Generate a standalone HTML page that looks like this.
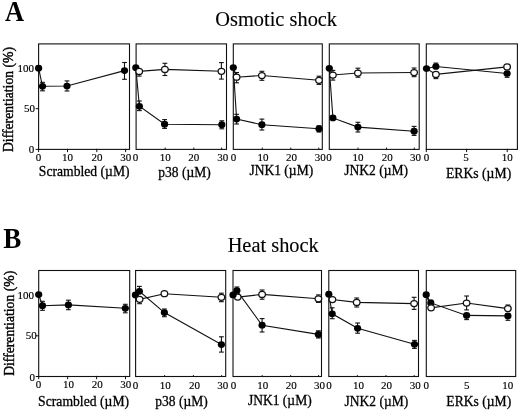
<!DOCTYPE html>
<html><head><meta charset="utf-8"><title>Figure</title>
<style>
html,body{margin:0;padding:0;background:#fff;}
svg{display:block;}
text{font-family:"Liberation Serif","Times New Roman",serif;fill:#000;}
.t{font-size:11px;stroke:#000;stroke-width:.15px;}
.xl{font-size:14.4px;stroke:#000;stroke-width:.28px;}
.yl{font-size:13.7px;stroke:#000;stroke-width:.4px;}
.ti{font-size:20.6px;stroke:#000;stroke-width:.12px;}
.pl{font-size:29.2px;font-weight:bold;}
</style></head>
<body>
<svg width="520" height="412" viewBox="0 0 520 412">
<rect x="0" y="0" width="520" height="412" fill="#fff"/>
<g id="rowA">
<rect x="38.6" y="43.9" width="90.90" height="105.50" fill="none" stroke="#111" stroke-width="1.1"/>
<line x1="38.60" y1="148.80" x2="38.60" y2="152.10" stroke="#111" stroke-width="1"/>
<text class="t" x="38.6" y="160.9" text-anchor="middle">0</text>
<line x1="67.50" y1="148.80" x2="67.50" y2="152.10" stroke="#111" stroke-width="1"/>
<text class="t" x="67.6" y="160.9" text-anchor="middle">10</text>
<line x1="96.80" y1="148.80" x2="96.80" y2="152.10" stroke="#111" stroke-width="1"/>
<text class="t" x="97.0" y="160.9" text-anchor="middle">20</text>
<line x1="125.60" y1="148.80" x2="125.60" y2="152.10" stroke="#111" stroke-width="1"/>
<text class="t" x="125.8" y="160.9" text-anchor="middle">30</text>
<polyline points="38.6,68.2 42.5,86.3 67.0,86.0 124.5,70.6" fill="none" stroke="#111" stroke-width="1.1"/>
<line x1="42.50" y1="86.30" x2="42.50" y2="82.30" stroke="#111" stroke-width="1.1"/>
<line x1="40.10" y1="82.30" x2="44.90" y2="82.30" stroke="#111" stroke-width="1.1"/>
<line x1="42.50" y1="86.30" x2="42.50" y2="90.80" stroke="#111" stroke-width="1.1"/>
<line x1="40.10" y1="90.80" x2="44.90" y2="90.80" stroke="#111" stroke-width="1.1"/>
<line x1="67.00" y1="86.00" x2="67.00" y2="80.90" stroke="#111" stroke-width="1.1"/>
<line x1="64.60" y1="80.90" x2="69.40" y2="80.90" stroke="#111" stroke-width="1.1"/>
<line x1="67.00" y1="86.00" x2="67.00" y2="91.00" stroke="#111" stroke-width="1.1"/>
<line x1="64.60" y1="91.00" x2="69.40" y2="91.00" stroke="#111" stroke-width="1.1"/>
<line x1="124.50" y1="70.60" x2="124.50" y2="62.50" stroke="#111" stroke-width="1.1"/>
<line x1="122.10" y1="62.50" x2="126.90" y2="62.50" stroke="#111" stroke-width="1.1"/>
<line x1="124.50" y1="70.60" x2="124.50" y2="79.30" stroke="#111" stroke-width="1.1"/>
<line x1="122.10" y1="79.30" x2="126.90" y2="79.30" stroke="#111" stroke-width="1.1"/>
<ellipse cx="38.6" cy="68.2" rx="3.6" ry="3.35" fill="#000"/>
<ellipse cx="42.5" cy="86.3" rx="3.6" ry="3.35" fill="#000"/>
<ellipse cx="67.0" cy="86.0" rx="3.6" ry="3.35" fill="#000"/>
<ellipse cx="124.5" cy="70.6" rx="3.6" ry="3.35" fill="#000"/>
<rect x="136.1" y="43.9" width="90.40" height="105.50" fill="none" stroke="#111" stroke-width="1.1"/>
<text class="t" x="135.6" y="161.3" text-anchor="middle">0</text>
<line x1="165.20" y1="147.60" x2="165.20" y2="149.40" stroke="#111" stroke-width="1"/>
<text class="t" x="165.2" y="161.3" text-anchor="middle">10</text>
<line x1="193.80" y1="147.60" x2="193.80" y2="149.40" stroke="#111" stroke-width="1"/>
<text class="t" x="193.8" y="161.3" text-anchor="middle">20</text>
<line x1="221.60" y1="147.60" x2="221.60" y2="149.40" stroke="#111" stroke-width="1"/>
<text class="t" x="222.7" y="161.3" text-anchor="middle">30</text>
<polyline points="135.8,67.7 139.2,71.4 164.9,69.4 221.4,71.3" fill="none" stroke="#111" stroke-width="1.1"/>
<polyline points="135.8,67.7 139.4,106.3 164.6,124.2 221.8,124.7" fill="none" stroke="#111" stroke-width="1.1"/>
<line x1="139.20" y1="71.40" x2="139.20" y2="76.10" stroke="#111" stroke-width="1.1"/>
<line x1="136.80" y1="76.10" x2="141.60" y2="76.10" stroke="#111" stroke-width="1.1"/>
<line x1="164.90" y1="69.40" x2="164.90" y2="63.30" stroke="#111" stroke-width="1.1"/>
<line x1="162.50" y1="63.30" x2="167.30" y2="63.30" stroke="#111" stroke-width="1.1"/>
<line x1="164.90" y1="69.40" x2="164.90" y2="75.50" stroke="#111" stroke-width="1.1"/>
<line x1="162.50" y1="75.50" x2="167.30" y2="75.50" stroke="#111" stroke-width="1.1"/>
<line x1="221.40" y1="71.30" x2="221.40" y2="62.60" stroke="#111" stroke-width="1.1"/>
<line x1="219.00" y1="62.60" x2="223.80" y2="62.60" stroke="#111" stroke-width="1.1"/>
<line x1="221.40" y1="71.30" x2="221.40" y2="79.10" stroke="#111" stroke-width="1.1"/>
<line x1="219.00" y1="79.10" x2="223.80" y2="79.10" stroke="#111" stroke-width="1.1"/>
<line x1="139.40" y1="106.30" x2="139.40" y2="101.00" stroke="#111" stroke-width="1.1"/>
<line x1="137.00" y1="101.00" x2="141.80" y2="101.00" stroke="#111" stroke-width="1.1"/>
<line x1="139.40" y1="106.30" x2="139.40" y2="110.60" stroke="#111" stroke-width="1.1"/>
<line x1="137.00" y1="110.60" x2="141.80" y2="110.60" stroke="#111" stroke-width="1.1"/>
<line x1="164.60" y1="124.20" x2="164.60" y2="119.60" stroke="#111" stroke-width="1.1"/>
<line x1="162.20" y1="119.60" x2="167.00" y2="119.60" stroke="#111" stroke-width="1.1"/>
<line x1="164.60" y1="124.20" x2="164.60" y2="128.40" stroke="#111" stroke-width="1.1"/>
<line x1="162.20" y1="128.40" x2="167.00" y2="128.40" stroke="#111" stroke-width="1.1"/>
<line x1="221.80" y1="124.70" x2="221.80" y2="120.80" stroke="#111" stroke-width="1.1"/>
<line x1="219.40" y1="120.80" x2="224.20" y2="120.80" stroke="#111" stroke-width="1.1"/>
<line x1="221.80" y1="124.70" x2="221.80" y2="128.80" stroke="#111" stroke-width="1.1"/>
<line x1="219.40" y1="128.80" x2="224.20" y2="128.80" stroke="#111" stroke-width="1.1"/>
<ellipse cx="135.8" cy="67.7" rx="3.6" ry="3.35" fill="#000"/>
<ellipse cx="139.4" cy="106.3" rx="3.6" ry="3.35" fill="#000"/>
<ellipse cx="164.6" cy="124.2" rx="3.6" ry="3.35" fill="#000"/>
<ellipse cx="221.8" cy="124.7" rx="3.6" ry="3.35" fill="#000"/>
<ellipse cx="139.2" cy="71.4" rx="3.3" ry="3.0" fill="#fff" stroke="#111" stroke-width="1.25"/>
<ellipse cx="164.9" cy="69.4" rx="3.3" ry="3.0" fill="#fff" stroke="#111" stroke-width="1.25"/>
<ellipse cx="221.4" cy="71.3" rx="3.3" ry="3.0" fill="#fff" stroke="#111" stroke-width="1.25"/>
<rect x="233.3" y="43.9" width="89.00" height="105.50" fill="none" stroke="#111" stroke-width="1.1"/>
<text class="t" x="233.5" y="161.3" text-anchor="middle">0</text>
<line x1="262.30" y1="147.60" x2="262.30" y2="149.40" stroke="#111" stroke-width="1"/>
<text class="t" x="263.0" y="161.3" text-anchor="middle">10</text>
<line x1="290.80" y1="147.60" x2="290.80" y2="149.40" stroke="#111" stroke-width="1"/>
<text class="t" x="291.6" y="161.3" text-anchor="middle">20</text>
<line x1="318.80" y1="147.60" x2="318.80" y2="149.40" stroke="#111" stroke-width="1"/>
<text class="t" x="320.2" y="161.3" text-anchor="middle">30</text>
<polyline points="233.3,67.5 236.6,77.2 261.9,75.5 319.0,80.3" fill="none" stroke="#111" stroke-width="1.1"/>
<polyline points="233.3,67.5 236.6,119.1 261.9,124.7 319.0,128.8" fill="none" stroke="#111" stroke-width="1.1"/>
<line x1="236.60" y1="77.20" x2="236.60" y2="72.50" stroke="#111" stroke-width="1.1"/>
<line x1="234.20" y1="72.50" x2="239.00" y2="72.50" stroke="#111" stroke-width="1.1"/>
<line x1="236.60" y1="77.20" x2="236.60" y2="82.80" stroke="#111" stroke-width="1.1"/>
<line x1="234.20" y1="82.80" x2="239.00" y2="82.80" stroke="#111" stroke-width="1.1"/>
<line x1="261.90" y1="75.50" x2="261.90" y2="71.30" stroke="#111" stroke-width="1.1"/>
<line x1="259.50" y1="71.30" x2="264.30" y2="71.30" stroke="#111" stroke-width="1.1"/>
<line x1="261.90" y1="75.50" x2="261.90" y2="80.30" stroke="#111" stroke-width="1.1"/>
<line x1="259.50" y1="80.30" x2="264.30" y2="80.30" stroke="#111" stroke-width="1.1"/>
<line x1="319.00" y1="80.30" x2="319.00" y2="76.20" stroke="#111" stroke-width="1.1"/>
<line x1="316.60" y1="76.20" x2="321.40" y2="76.20" stroke="#111" stroke-width="1.1"/>
<line x1="319.00" y1="80.30" x2="319.00" y2="84.40" stroke="#111" stroke-width="1.1"/>
<line x1="316.60" y1="84.40" x2="321.40" y2="84.40" stroke="#111" stroke-width="1.1"/>
<line x1="236.60" y1="119.10" x2="236.60" y2="114.30" stroke="#111" stroke-width="1.1"/>
<line x1="234.20" y1="114.30" x2="239.00" y2="114.30" stroke="#111" stroke-width="1.1"/>
<line x1="236.60" y1="119.10" x2="236.60" y2="124.00" stroke="#111" stroke-width="1.1"/>
<line x1="234.20" y1="124.00" x2="239.00" y2="124.00" stroke="#111" stroke-width="1.1"/>
<line x1="261.90" y1="124.70" x2="261.90" y2="119.10" stroke="#111" stroke-width="1.1"/>
<line x1="259.50" y1="119.10" x2="264.30" y2="119.10" stroke="#111" stroke-width="1.1"/>
<line x1="261.90" y1="124.70" x2="261.90" y2="130.00" stroke="#111" stroke-width="1.1"/>
<line x1="259.50" y1="130.00" x2="264.30" y2="130.00" stroke="#111" stroke-width="1.1"/>
<line x1="319.00" y1="128.80" x2="319.00" y2="125.70" stroke="#111" stroke-width="1.1"/>
<line x1="316.60" y1="125.70" x2="321.40" y2="125.70" stroke="#111" stroke-width="1.1"/>
<line x1="319.00" y1="128.80" x2="319.00" y2="132.00" stroke="#111" stroke-width="1.1"/>
<line x1="316.60" y1="132.00" x2="321.40" y2="132.00" stroke="#111" stroke-width="1.1"/>
<ellipse cx="233.3" cy="67.5" rx="3.6" ry="3.35" fill="#000"/>
<ellipse cx="236.6" cy="119.1" rx="3.6" ry="3.35" fill="#000"/>
<ellipse cx="261.9" cy="124.7" rx="3.6" ry="3.35" fill="#000"/>
<ellipse cx="319.0" cy="128.8" rx="3.6" ry="3.35" fill="#000"/>
<ellipse cx="236.6" cy="77.2" rx="3.3" ry="3.0" fill="#fff" stroke="#111" stroke-width="1.25"/>
<ellipse cx="261.9" cy="75.5" rx="3.3" ry="3.0" fill="#fff" stroke="#111" stroke-width="1.25"/>
<ellipse cx="319.0" cy="80.3" rx="3.3" ry="3.0" fill="#fff" stroke="#111" stroke-width="1.25"/>
<rect x="329.3" y="43.9" width="89.90" height="105.50" fill="none" stroke="#111" stroke-width="1.1"/>
<text class="t" x="328.9" y="161.3" text-anchor="middle">0</text>
<line x1="358.00" y1="147.60" x2="358.00" y2="149.40" stroke="#111" stroke-width="1"/>
<text class="t" x="358.1" y="161.3" text-anchor="middle">10</text>
<line x1="386.50" y1="147.60" x2="386.50" y2="149.40" stroke="#111" stroke-width="1"/>
<text class="t" x="387.3" y="161.3" text-anchor="middle">20</text>
<line x1="414.30" y1="147.60" x2="414.30" y2="149.40" stroke="#111" stroke-width="1"/>
<text class="t" x="415.6" y="161.3" text-anchor="middle">30</text>
<polyline points="329.3,68.3 332.9,75.0 357.9,73.0 414.1,72.5" fill="none" stroke="#111" stroke-width="1.1"/>
<polyline points="329.3,68.3 332.9,117.9 357.9,127.1 414.1,131.2" fill="none" stroke="#111" stroke-width="1.1"/>
<line x1="332.90" y1="75.00" x2="332.90" y2="70.40" stroke="#111" stroke-width="1.1"/>
<line x1="330.50" y1="70.40" x2="335.30" y2="70.40" stroke="#111" stroke-width="1.1"/>
<line x1="332.90" y1="75.00" x2="332.90" y2="80.10" stroke="#111" stroke-width="1.1"/>
<line x1="330.50" y1="80.10" x2="335.30" y2="80.10" stroke="#111" stroke-width="1.1"/>
<line x1="357.90" y1="73.00" x2="357.90" y2="68.20" stroke="#111" stroke-width="1.1"/>
<line x1="355.50" y1="68.20" x2="360.30" y2="68.20" stroke="#111" stroke-width="1.1"/>
<line x1="357.90" y1="73.00" x2="357.90" y2="77.20" stroke="#111" stroke-width="1.1"/>
<line x1="355.50" y1="77.20" x2="360.30" y2="77.20" stroke="#111" stroke-width="1.1"/>
<line x1="414.10" y1="72.50" x2="414.10" y2="68.00" stroke="#111" stroke-width="1.1"/>
<line x1="411.70" y1="68.00" x2="416.50" y2="68.00" stroke="#111" stroke-width="1.1"/>
<line x1="414.10" y1="72.50" x2="414.10" y2="76.70" stroke="#111" stroke-width="1.1"/>
<line x1="411.70" y1="76.70" x2="416.50" y2="76.70" stroke="#111" stroke-width="1.1"/>
<line x1="357.90" y1="127.10" x2="357.90" y2="122.30" stroke="#111" stroke-width="1.1"/>
<line x1="355.50" y1="122.30" x2="360.30" y2="122.30" stroke="#111" stroke-width="1.1"/>
<line x1="357.90" y1="127.10" x2="357.90" y2="132.00" stroke="#111" stroke-width="1.1"/>
<line x1="355.50" y1="132.00" x2="360.30" y2="132.00" stroke="#111" stroke-width="1.1"/>
<line x1="414.10" y1="131.20" x2="414.10" y2="126.40" stroke="#111" stroke-width="1.1"/>
<line x1="411.70" y1="126.40" x2="416.50" y2="126.40" stroke="#111" stroke-width="1.1"/>
<line x1="414.10" y1="131.20" x2="414.10" y2="135.40" stroke="#111" stroke-width="1.1"/>
<line x1="411.70" y1="135.40" x2="416.50" y2="135.40" stroke="#111" stroke-width="1.1"/>
<ellipse cx="329.3" cy="68.3" rx="3.6" ry="3.35" fill="#000"/>
<ellipse cx="332.9" cy="117.9" rx="3.6" ry="3.35" fill="#000"/>
<ellipse cx="357.9" cy="127.1" rx="3.6" ry="3.35" fill="#000"/>
<ellipse cx="414.1" cy="131.2" rx="3.6" ry="3.35" fill="#000"/>
<ellipse cx="332.9" cy="75.0" rx="3.3" ry="3.0" fill="#fff" stroke="#111" stroke-width="1.25"/>
<ellipse cx="357.9" cy="73.0" rx="3.3" ry="3.0" fill="#fff" stroke="#111" stroke-width="1.25"/>
<ellipse cx="414.1" cy="72.5" rx="3.3" ry="3.0" fill="#fff" stroke="#111" stroke-width="1.25"/>
<rect x="426.3" y="43.9" width="91.10" height="105.50" fill="none" stroke="#111" stroke-width="1.1"/>
<line x1="426.30" y1="148.80" x2="426.30" y2="152.10" stroke="#111" stroke-width="1"/>
<text class="t" x="426.5" y="161.3" text-anchor="middle">0</text>
<line x1="466.60" y1="148.80" x2="466.60" y2="152.10" stroke="#111" stroke-width="1"/>
<text class="t" x="466.1" y="161.3" text-anchor="middle">5</text>
<line x1="507.20" y1="148.80" x2="507.20" y2="152.10" stroke="#111" stroke-width="1"/>
<text class="t" x="507.3" y="161.3" text-anchor="middle">10</text>
<polyline points="426.5,68.5 435.9,74.4 507.1,66.9" fill="none" stroke="#111" stroke-width="1.1"/>
<polyline points="426.5,68.5 435.9,66.5 507.1,73.5" fill="none" stroke="#111" stroke-width="1.1"/>
<line x1="435.90" y1="74.40" x2="435.90" y2="78.60" stroke="#111" stroke-width="1.1"/>
<line x1="433.50" y1="78.60" x2="438.30" y2="78.60" stroke="#111" stroke-width="1.1"/>
<line x1="435.90" y1="66.50" x2="435.90" y2="63.10" stroke="#111" stroke-width="1.1"/>
<line x1="433.50" y1="63.10" x2="438.30" y2="63.10" stroke="#111" stroke-width="1.1"/>
<line x1="507.10" y1="73.50" x2="507.10" y2="77.30" stroke="#111" stroke-width="1.1"/>
<line x1="504.70" y1="77.30" x2="509.50" y2="77.30" stroke="#111" stroke-width="1.1"/>
<ellipse cx="426.5" cy="68.5" rx="3.6" ry="3.35" fill="#000"/>
<ellipse cx="435.9" cy="66.5" rx="3.6" ry="3.35" fill="#000"/>
<ellipse cx="507.1" cy="73.5" rx="3.6" ry="3.35" fill="#000"/>
<ellipse cx="435.9" cy="74.4" rx="3.3" ry="3.0" fill="#fff" stroke="#111" stroke-width="1.25"/>
<ellipse cx="507.1" cy="66.9" rx="3.3" ry="3.0" fill="#fff" stroke="#111" stroke-width="1.25"/>
<line x1="35.60" y1="68.20" x2="38.60" y2="68.20" stroke="#111" stroke-width="1"/>
<text class="t" x="33.9" y="71.5" text-anchor="end">100</text>
<line x1="35.60" y1="108.70" x2="38.60" y2="108.70" stroke="#111" stroke-width="1"/>
<text class="t" x="35.1" y="112.1" text-anchor="end">50</text>
<line x1="35.60" y1="149.40" x2="38.60" y2="149.40" stroke="#111" stroke-width="1"/>
<text class="t" x="34.3" y="152.7" text-anchor="end">0</text>
<text class="xl" transform="translate(84.2,175.8) scale(0.948,1)" text-anchor="middle">Scrambled (µM)</text>
<text class="xl" transform="translate(184.6,177.2) scale(0.94,1)" text-anchor="middle">p38 (µM)</text>
<text class="xl" transform="translate(281.3,175.4) scale(0.94,1)" text-anchor="middle">JNK1 (µM)</text>
<text class="xl" transform="translate(376.2,175.2) scale(0.94,1)" text-anchor="middle">JNK2 (µM)</text>
<text class="xl" transform="translate(478.6,178) scale(0.95,1)" text-anchor="middle">ERKs (µM)</text>
</g>
<g id="rowB">
<rect x="38.7" y="270.5" width="91.00" height="106.00" fill="none" stroke="#111" stroke-width="1.1"/>
<line x1="38.70" y1="375.90" x2="38.70" y2="379.20" stroke="#111" stroke-width="1"/>
<text class="t" x="38.6" y="388.0" text-anchor="middle">0</text>
<line x1="67.60" y1="375.90" x2="67.60" y2="379.20" stroke="#111" stroke-width="1"/>
<text class="t" x="68.6" y="388.0" text-anchor="middle">10</text>
<line x1="96.60" y1="375.90" x2="96.60" y2="379.20" stroke="#111" stroke-width="1"/>
<text class="t" x="97.2" y="388.0" text-anchor="middle">20</text>
<line x1="125.50" y1="375.90" x2="125.50" y2="379.20" stroke="#111" stroke-width="1"/>
<text class="t" x="125.8" y="388.0" text-anchor="middle">30</text>
<polyline points="38.7,294.6 42.5,305.7 68.4,304.9 125.3,308.3" fill="none" stroke="#111" stroke-width="1.1"/>
<line x1="42.50" y1="305.70" x2="42.50" y2="301.30" stroke="#111" stroke-width="1.1"/>
<line x1="40.10" y1="301.30" x2="44.90" y2="301.30" stroke="#111" stroke-width="1.1"/>
<line x1="42.50" y1="305.70" x2="42.50" y2="310.30" stroke="#111" stroke-width="1.1"/>
<line x1="40.10" y1="310.30" x2="44.90" y2="310.30" stroke="#111" stroke-width="1.1"/>
<line x1="68.40" y1="304.90" x2="68.40" y2="300.20" stroke="#111" stroke-width="1.1"/>
<line x1="66.00" y1="300.20" x2="70.80" y2="300.20" stroke="#111" stroke-width="1.1"/>
<line x1="68.40" y1="304.90" x2="68.40" y2="309.70" stroke="#111" stroke-width="1.1"/>
<line x1="66.00" y1="309.70" x2="70.80" y2="309.70" stroke="#111" stroke-width="1.1"/>
<line x1="125.30" y1="308.30" x2="125.30" y2="304.30" stroke="#111" stroke-width="1.1"/>
<line x1="122.90" y1="304.30" x2="127.70" y2="304.30" stroke="#111" stroke-width="1.1"/>
<line x1="125.30" y1="308.30" x2="125.30" y2="312.80" stroke="#111" stroke-width="1.1"/>
<line x1="122.90" y1="312.80" x2="127.70" y2="312.80" stroke="#111" stroke-width="1.1"/>
<ellipse cx="38.7" cy="294.6" rx="3.6" ry="3.35" fill="#000"/>
<ellipse cx="42.5" cy="305.7" rx="3.6" ry="3.35" fill="#000"/>
<ellipse cx="68.4" cy="304.9" rx="3.6" ry="3.35" fill="#000"/>
<ellipse cx="125.3" cy="308.3" rx="3.6" ry="3.35" fill="#000"/>
<rect x="135.6" y="270.5" width="90.10" height="106.00" fill="none" stroke="#111" stroke-width="1.1"/>
<text class="t" x="135.6" y="389.4" text-anchor="middle">0</text>
<line x1="164.60" y1="375.10" x2="164.60" y2="376.50" stroke="#111" stroke-width="1"/>
<text class="t" x="165.2" y="389.4" text-anchor="middle">10</text>
<line x1="193.40" y1="375.10" x2="193.40" y2="376.50" stroke="#111" stroke-width="1"/>
<text class="t" x="194.4" y="389.4" text-anchor="middle">20</text>
<line x1="221.60" y1="375.10" x2="221.60" y2="376.50" stroke="#111" stroke-width="1"/>
<text class="t" x="222.7" y="389.4" text-anchor="middle">30</text>
<polyline points="135.4,294.9 139.6,299.3 164.4,293.7 221.4,297.3" fill="none" stroke="#111" stroke-width="1.1"/>
<polyline points="135.4,294.9 139.4,291.3 164.4,312.6 221.4,344.6" fill="none" stroke="#111" stroke-width="1.1"/>
<line x1="139.60" y1="299.30" x2="139.60" y2="303.70" stroke="#111" stroke-width="1.1"/>
<line x1="137.20" y1="303.70" x2="142.00" y2="303.70" stroke="#111" stroke-width="1.1"/>
<line x1="221.40" y1="297.30" x2="221.40" y2="293.20" stroke="#111" stroke-width="1.1"/>
<line x1="219.00" y1="293.20" x2="223.80" y2="293.20" stroke="#111" stroke-width="1.1"/>
<line x1="221.40" y1="297.30" x2="221.40" y2="301.70" stroke="#111" stroke-width="1.1"/>
<line x1="219.00" y1="301.70" x2="223.80" y2="301.70" stroke="#111" stroke-width="1.1"/>
<line x1="139.40" y1="291.30" x2="139.40" y2="286.40" stroke="#111" stroke-width="1.1"/>
<line x1="137.00" y1="286.40" x2="141.80" y2="286.40" stroke="#111" stroke-width="1.1"/>
<line x1="164.40" y1="312.60" x2="164.40" y2="309.00" stroke="#111" stroke-width="1.1"/>
<line x1="162.00" y1="309.00" x2="166.80" y2="309.00" stroke="#111" stroke-width="1.1"/>
<line x1="164.40" y1="312.60" x2="164.40" y2="316.70" stroke="#111" stroke-width="1.1"/>
<line x1="162.00" y1="316.70" x2="166.80" y2="316.70" stroke="#111" stroke-width="1.1"/>
<line x1="221.40" y1="344.60" x2="221.40" y2="336.80" stroke="#111" stroke-width="1.1"/>
<line x1="219.00" y1="336.80" x2="223.80" y2="336.80" stroke="#111" stroke-width="1.1"/>
<line x1="221.40" y1="344.60" x2="221.40" y2="352.10" stroke="#111" stroke-width="1.1"/>
<line x1="219.00" y1="352.10" x2="223.80" y2="352.10" stroke="#111" stroke-width="1.1"/>
<ellipse cx="135.4" cy="294.9" rx="3.6" ry="3.35" fill="#000"/>
<ellipse cx="139.4" cy="291.3" rx="3.6" ry="3.35" fill="#000"/>
<ellipse cx="164.4" cy="312.6" rx="3.6" ry="3.35" fill="#000"/>
<ellipse cx="221.4" cy="344.6" rx="3.6" ry="3.35" fill="#000"/>
<ellipse cx="139.6" cy="299.3" rx="3.3" ry="3.0" fill="#fff" stroke="#111" stroke-width="1.25"/>
<ellipse cx="164.4" cy="293.7" rx="3.3" ry="3.0" fill="#fff" stroke="#111" stroke-width="1.25"/>
<ellipse cx="221.4" cy="297.3" rx="3.3" ry="3.0" fill="#fff" stroke="#111" stroke-width="1.25"/>
<rect x="233.0" y="270.5" width="88.50" height="106.00" fill="none" stroke="#111" stroke-width="1.1"/>
<text class="t" x="233.5" y="389.4" text-anchor="middle">0</text>
<line x1="262.20" y1="375.10" x2="262.20" y2="376.50" stroke="#111" stroke-width="1"/>
<text class="t" x="262.7" y="389.4" text-anchor="middle">10</text>
<line x1="290.60" y1="375.10" x2="290.60" y2="376.50" stroke="#111" stroke-width="1"/>
<text class="t" x="291.2" y="389.4" text-anchor="middle">20</text>
<line x1="318.60" y1="375.10" x2="318.60" y2="376.50" stroke="#111" stroke-width="1"/>
<text class="t" x="319.6" y="389.4" text-anchor="middle">30</text>
<polyline points="233.0,294.9 237.7,297.1 262.1,294.4 318.4,298.8" fill="none" stroke="#111" stroke-width="1.1"/>
<polyline points="233.0,294.9 236.9,290.6 262.1,325.2 318.4,334.4" fill="none" stroke="#111" stroke-width="1.1"/>
<line x1="262.10" y1="294.40" x2="262.10" y2="290.00" stroke="#111" stroke-width="1.1"/>
<line x1="259.70" y1="290.00" x2="264.50" y2="290.00" stroke="#111" stroke-width="1.1"/>
<line x1="262.10" y1="294.40" x2="262.10" y2="299.20" stroke="#111" stroke-width="1.1"/>
<line x1="259.70" y1="299.20" x2="264.50" y2="299.20" stroke="#111" stroke-width="1.1"/>
<line x1="318.40" y1="298.80" x2="318.40" y2="294.90" stroke="#111" stroke-width="1.1"/>
<line x1="316.00" y1="294.90" x2="320.80" y2="294.90" stroke="#111" stroke-width="1.1"/>
<line x1="318.40" y1="298.80" x2="318.40" y2="302.40" stroke="#111" stroke-width="1.1"/>
<line x1="316.00" y1="302.40" x2="320.80" y2="302.40" stroke="#111" stroke-width="1.1"/>
<line x1="236.90" y1="290.60" x2="236.90" y2="287.00" stroke="#111" stroke-width="1.1"/>
<line x1="234.50" y1="287.00" x2="239.30" y2="287.00" stroke="#111" stroke-width="1.1"/>
<line x1="262.10" y1="325.20" x2="262.10" y2="318.60" stroke="#111" stroke-width="1.1"/>
<line x1="259.70" y1="318.60" x2="264.50" y2="318.60" stroke="#111" stroke-width="1.1"/>
<line x1="262.10" y1="325.20" x2="262.10" y2="332.00" stroke="#111" stroke-width="1.1"/>
<line x1="259.70" y1="332.00" x2="264.50" y2="332.00" stroke="#111" stroke-width="1.1"/>
<line x1="318.40" y1="334.40" x2="318.40" y2="330.80" stroke="#111" stroke-width="1.1"/>
<line x1="316.00" y1="330.80" x2="320.80" y2="330.80" stroke="#111" stroke-width="1.1"/>
<line x1="318.40" y1="334.40" x2="318.40" y2="338.00" stroke="#111" stroke-width="1.1"/>
<line x1="316.00" y1="338.00" x2="320.80" y2="338.00" stroke="#111" stroke-width="1.1"/>
<ellipse cx="237.7" cy="297.1" rx="3.3" ry="3.0" fill="#fff" stroke="#111" stroke-width="1.25"/>
<ellipse cx="262.1" cy="294.4" rx="3.3" ry="3.0" fill="#fff" stroke="#111" stroke-width="1.25"/>
<ellipse cx="318.4" cy="298.8" rx="3.3" ry="3.0" fill="#fff" stroke="#111" stroke-width="1.25"/>
<ellipse cx="233.0" cy="294.9" rx="3.6" ry="3.35" fill="#000"/>
<ellipse cx="236.9" cy="290.6" rx="3.6" ry="3.35" fill="#000"/>
<ellipse cx="262.1" cy="325.2" rx="3.6" ry="3.35" fill="#000"/>
<ellipse cx="318.4" cy="334.4" rx="3.6" ry="3.35" fill="#000"/>
<rect x="328.8" y="270.5" width="89.70" height="106.00" fill="none" stroke="#111" stroke-width="1.1"/>
<text class="t" x="328.9" y="388.5" text-anchor="middle">0</text>
<line x1="357.40" y1="375.10" x2="357.40" y2="376.50" stroke="#111" stroke-width="1"/>
<text class="t" x="358.5" y="389.4" text-anchor="middle">10</text>
<line x1="386.00" y1="375.10" x2="386.00" y2="376.50" stroke="#111" stroke-width="1"/>
<text class="t" x="386.6" y="389.4" text-anchor="middle">20</text>
<line x1="414.20" y1="375.10" x2="414.20" y2="376.50" stroke="#111" stroke-width="1"/>
<text class="t" x="415.2" y="389.4" text-anchor="middle">30</text>
<polyline points="328.8,294.2 332.4,299.6 356.7,302.4 414.1,303.6" fill="none" stroke="#111" stroke-width="1.1"/>
<polyline points="328.8,294.2 332.2,313.8 357.6,328.3 414.5,344.3" fill="none" stroke="#111" stroke-width="1.1"/>
<line x1="356.70" y1="302.40" x2="356.70" y2="298.00" stroke="#111" stroke-width="1.1"/>
<line x1="354.30" y1="298.00" x2="359.10" y2="298.00" stroke="#111" stroke-width="1.1"/>
<line x1="356.70" y1="302.40" x2="356.70" y2="307.00" stroke="#111" stroke-width="1.1"/>
<line x1="354.30" y1="307.00" x2="359.10" y2="307.00" stroke="#111" stroke-width="1.1"/>
<line x1="414.10" y1="303.60" x2="414.10" y2="297.30" stroke="#111" stroke-width="1.1"/>
<line x1="411.70" y1="297.30" x2="416.50" y2="297.30" stroke="#111" stroke-width="1.1"/>
<line x1="414.10" y1="303.60" x2="414.10" y2="309.40" stroke="#111" stroke-width="1.1"/>
<line x1="411.70" y1="309.40" x2="416.50" y2="309.40" stroke="#111" stroke-width="1.1"/>
<line x1="332.20" y1="313.80" x2="332.20" y2="307.80" stroke="#111" stroke-width="1.1"/>
<line x1="329.80" y1="307.80" x2="334.60" y2="307.80" stroke="#111" stroke-width="1.1"/>
<line x1="332.20" y1="313.80" x2="332.20" y2="318.70" stroke="#111" stroke-width="1.1"/>
<line x1="329.80" y1="318.70" x2="334.60" y2="318.70" stroke="#111" stroke-width="1.1"/>
<line x1="357.60" y1="328.30" x2="357.60" y2="323.00" stroke="#111" stroke-width="1.1"/>
<line x1="355.20" y1="323.00" x2="360.00" y2="323.00" stroke="#111" stroke-width="1.1"/>
<line x1="357.60" y1="328.30" x2="357.60" y2="333.20" stroke="#111" stroke-width="1.1"/>
<line x1="355.20" y1="333.20" x2="360.00" y2="333.20" stroke="#111" stroke-width="1.1"/>
<line x1="414.50" y1="344.30" x2="414.50" y2="340.40" stroke="#111" stroke-width="1.1"/>
<line x1="412.10" y1="340.40" x2="416.90" y2="340.40" stroke="#111" stroke-width="1.1"/>
<line x1="414.50" y1="344.30" x2="414.50" y2="348.40" stroke="#111" stroke-width="1.1"/>
<line x1="412.10" y1="348.40" x2="416.90" y2="348.40" stroke="#111" stroke-width="1.1"/>
<ellipse cx="328.8" cy="294.2" rx="3.6" ry="3.35" fill="#000"/>
<ellipse cx="332.2" cy="313.8" rx="3.6" ry="3.35" fill="#000"/>
<ellipse cx="357.6" cy="328.3" rx="3.6" ry="3.35" fill="#000"/>
<ellipse cx="414.5" cy="344.3" rx="3.6" ry="3.35" fill="#000"/>
<ellipse cx="332.4" cy="299.6" rx="3.3" ry="3.0" fill="#fff" stroke="#111" stroke-width="1.25"/>
<ellipse cx="356.7" cy="302.4" rx="3.3" ry="3.0" fill="#fff" stroke="#111" stroke-width="1.25"/>
<ellipse cx="414.1" cy="303.6" rx="3.3" ry="3.0" fill="#fff" stroke="#111" stroke-width="1.25"/>
<rect x="426.3" y="270.5" width="89.40" height="106.00" fill="none" stroke="#111" stroke-width="1.1"/>
<text class="t" x="426.3" y="389.4" text-anchor="middle">0</text>
<text class="t" x="466.7" y="389.4" text-anchor="middle">5</text>
<text class="t" x="507.7" y="389.4" text-anchor="middle">10</text>
<polyline points="426.2,294.7 431.1,307.8 466.6,303.0 507.9,308.6" fill="none" stroke="#111" stroke-width="1.1"/>
<polyline points="426.2,294.7 430.8,302.9 466.6,315.4 507.9,315.9" fill="none" stroke="#111" stroke-width="1.1"/>
<line x1="466.60" y1="303.00" x2="466.60" y2="296.00" stroke="#111" stroke-width="1.1"/>
<line x1="464.20" y1="296.00" x2="469.00" y2="296.00" stroke="#111" stroke-width="1.1"/>
<line x1="466.60" y1="303.00" x2="466.60" y2="309.90" stroke="#111" stroke-width="1.1"/>
<line x1="464.20" y1="309.90" x2="469.00" y2="309.90" stroke="#111" stroke-width="1.1"/>
<line x1="507.90" y1="308.60" x2="507.90" y2="305.00" stroke="#111" stroke-width="1.1"/>
<line x1="505.50" y1="305.00" x2="510.30" y2="305.00" stroke="#111" stroke-width="1.1"/>
<line x1="430.80" y1="302.90" x2="430.80" y2="300.20" stroke="#111" stroke-width="1.1"/>
<line x1="428.40" y1="300.20" x2="433.20" y2="300.20" stroke="#111" stroke-width="1.1"/>
<line x1="466.60" y1="315.40" x2="466.60" y2="319.60" stroke="#111" stroke-width="1.1"/>
<line x1="464.20" y1="319.60" x2="469.00" y2="319.60" stroke="#111" stroke-width="1.1"/>
<line x1="507.90" y1="315.90" x2="507.90" y2="320.30" stroke="#111" stroke-width="1.1"/>
<line x1="505.50" y1="320.30" x2="510.30" y2="320.30" stroke="#111" stroke-width="1.1"/>
<ellipse cx="426.2" cy="294.7" rx="3.6" ry="3.35" fill="#000"/>
<ellipse cx="430.8" cy="302.9" rx="3.6" ry="3.35" fill="#000"/>
<ellipse cx="466.6" cy="315.4" rx="3.6" ry="3.35" fill="#000"/>
<ellipse cx="507.9" cy="315.9" rx="3.6" ry="3.35" fill="#000"/>
<ellipse cx="431.1" cy="307.8" rx="3.3" ry="3.0" fill="#fff" stroke="#111" stroke-width="1.25"/>
<ellipse cx="466.6" cy="303.0" rx="3.3" ry="3.0" fill="#fff" stroke="#111" stroke-width="1.25"/>
<ellipse cx="507.9" cy="308.6" rx="3.3" ry="3.0" fill="#fff" stroke="#111" stroke-width="1.25"/>
<line x1="35.70" y1="295.00" x2="38.70" y2="295.00" stroke="#111" stroke-width="1"/>
<text class="t" x="33.9" y="298.6" text-anchor="end">100</text>
<line x1="35.70" y1="335.80" x2="38.70" y2="335.80" stroke="#111" stroke-width="1"/>
<text class="t" x="36.7" y="339.4" text-anchor="end">50</text>
<line x1="35.70" y1="376.50" x2="38.70" y2="376.50" stroke="#111" stroke-width="1"/>
<text class="t" x="35.0" y="381.4" text-anchor="end">0</text>
<text class="xl" transform="translate(83.6,405.5) scale(0.95,1)" text-anchor="middle">Scrambled (µM)</text>
<text class="xl" transform="translate(181.5,406.4) scale(0.94,1)" text-anchor="middle">p38 (µM)</text>
<text class="xl" transform="translate(279.8,405.4) scale(0.94,1)" text-anchor="middle">JNK1 (µM)</text>
<text class="xl" transform="translate(376.4,406) scale(0.94,1)" text-anchor="middle">JNK2 (µM)</text>
<text class="xl" transform="translate(478.8,406) scale(0.945,1)" text-anchor="middle">ERKs (µM)</text>
</g>
<text class="yl" transform="translate(13.0,99.5) rotate(-90)" text-anchor="middle">Differentiation (%)</text>
<text class="yl" transform="translate(13.5,323.3) rotate(-90)" text-anchor="middle">Differentiation (%)</text>
<text class="ti" transform="translate(276.2,26) scale(0.99,1)" text-anchor="middle">Osmotic shock</text>
<text class="ti" transform="translate(273.2,252) scale(0.99,1)" text-anchor="middle">Heat shock</text>
<text class="pl" transform="translate(5,21.3) scale(0.905,1)">A</text>
<text class="pl" transform="translate(3.2,247.6) scale(0.928,1)">B</text>
</svg>
</body></html>
